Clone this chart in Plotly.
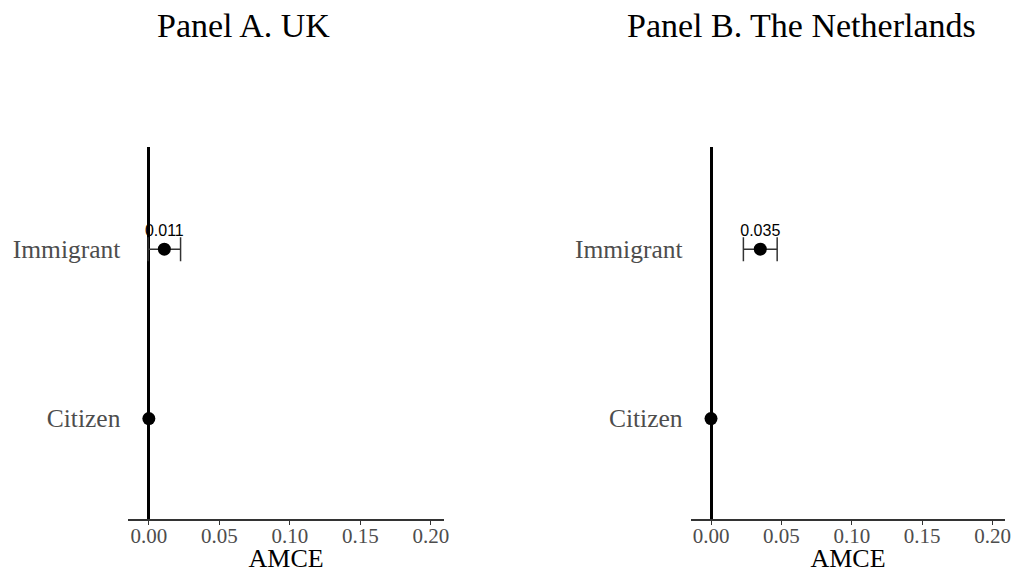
import plotly.graph_objects as go

# Data
categories = ["Citizen", "Immigrant"]
uk_est = [0.0, 0.011]
uk_lo = [None, -0.0005]
uk_hi = [None, 0.0225]
nl_est = [0.0, 0.035]
nl_lo = [None, 0.023]
nl_hi = [None, 0.047]
labels_uk = ["", "0.011"]
labels_nl = ["", "0.035"]
panel_titles = ["Panel A. UK", "Panel B. The Netherlands"]
xticks = [0.00, 0.05, 0.10, 0.15, 0.20]
xtick_text = ["0.00", "0.05", "0.10", "0.15", "0.20"]

SERIF = "Liberation Serif"
fig = go.Figure()

def add_panel(est, lo, hi, labels, xa, ya):
    has = [h is not None for h in hi]
    xs_e = [e for e, h in zip(est, has) if h]
    ys_e = [c for c, h in zip(categories, has) if h]
    pl_e = [h - e for e, h in zip(est, hi) if h is not None]
    mi_e = [e - l for e, l in zip(est, lo) if l is not None]
    fig.add_trace(go.Scatter(
        x=xs_e, y=ys_e, mode="markers", marker=dict(size=1, color="rgba(0,0,0,0)"),
        error_x=dict(type="data", symmetric=False, array=pl_e, arrayminus=mi_e,
                     color="#333333", thickness=1.5, width=12),
        xaxis=xa, yaxis=ya, showlegend=False, hoverinfo="skip"))
    fig.add_trace(go.Scatter(
        x=est, y=categories, mode="markers+text", text=labels,
        textposition="top center",
        textfont=dict(family="Liberation Sans", size=16, color="black"),
        marker=dict(size=13, color="black"),
        xaxis=xa, yaxis=ya, showlegend=False))

add_panel(uk_est, uk_lo, uk_hi, labels_uk, "x", "y")
add_panel(nl_est, nl_lo, nl_hi, labels_nl, "x2", "y2")

xaxis_common = dict(
    range=[-0.0145, 0.2092], tickvals=xticks, ticktext=xtick_text,
    showgrid=False, zeroline=True, zerolinecolor="black", zerolinewidth=3,
    showline=True, linecolor="#333333", linewidth=1.5,
    ticks="outside", ticklen=4, tickcolor="#333333", tickwidth=1,
    ticklabelstandoff=-7,
    tickfont=dict(family=SERIF, size=21, color="#4d4d4d"),
    title=dict(text="AMCE", font=dict(family=SERIF, size=26, color="black"), standoff=7),
)
yaxis_common = dict(
    type="category", categoryorder="array", categoryarray=categories,
    range=[-0.594, 1.6], showgrid=False, zeroline=False, showline=False,
    ticks="", ticklabelstandoff=7,
    tickfont=dict(family=SERIF, size=25.5, color="#4d4d4d"),
)

fig.update_layout(
    width=1012, height=573,
    margin=dict(l=0, r=0, t=0, b=0),
    paper_bgcolor="white", plot_bgcolor="white",
    xaxis=dict(domain=[0.1275, 0.4407], anchor="y", **xaxis_common),
    yaxis=dict(domain=[0.0908, 0.7417], anchor="x", **yaxis_common),
    xaxis2=dict(domain=[0.6858, 0.9985], anchor="y2", **xaxis_common),
    yaxis2=dict(domain=[0.0908, 0.7417], anchor="x2", **yaxis_common),
    annotations=[
        dict(text=panel_titles[0], x=0.2416, y=0.9546, xref="paper", yref="paper",
             showarrow=False, xanchor="center", yanchor="middle",
             font=dict(family=SERIF, size=34, color="black")),
        dict(text=panel_titles[1], x=0.7964, y=0.9546, xref="paper", yref="paper",
             showarrow=False, xanchor="center", yanchor="middle",
             font=dict(family=SERIF, size=34, color="black")),
    ],
)

fig.write_html(
    "out.html",
    config={"displayModeBar": False},
    post_script="document.body.style.margin='0';document.body.style.overflow='hidden';",
)
